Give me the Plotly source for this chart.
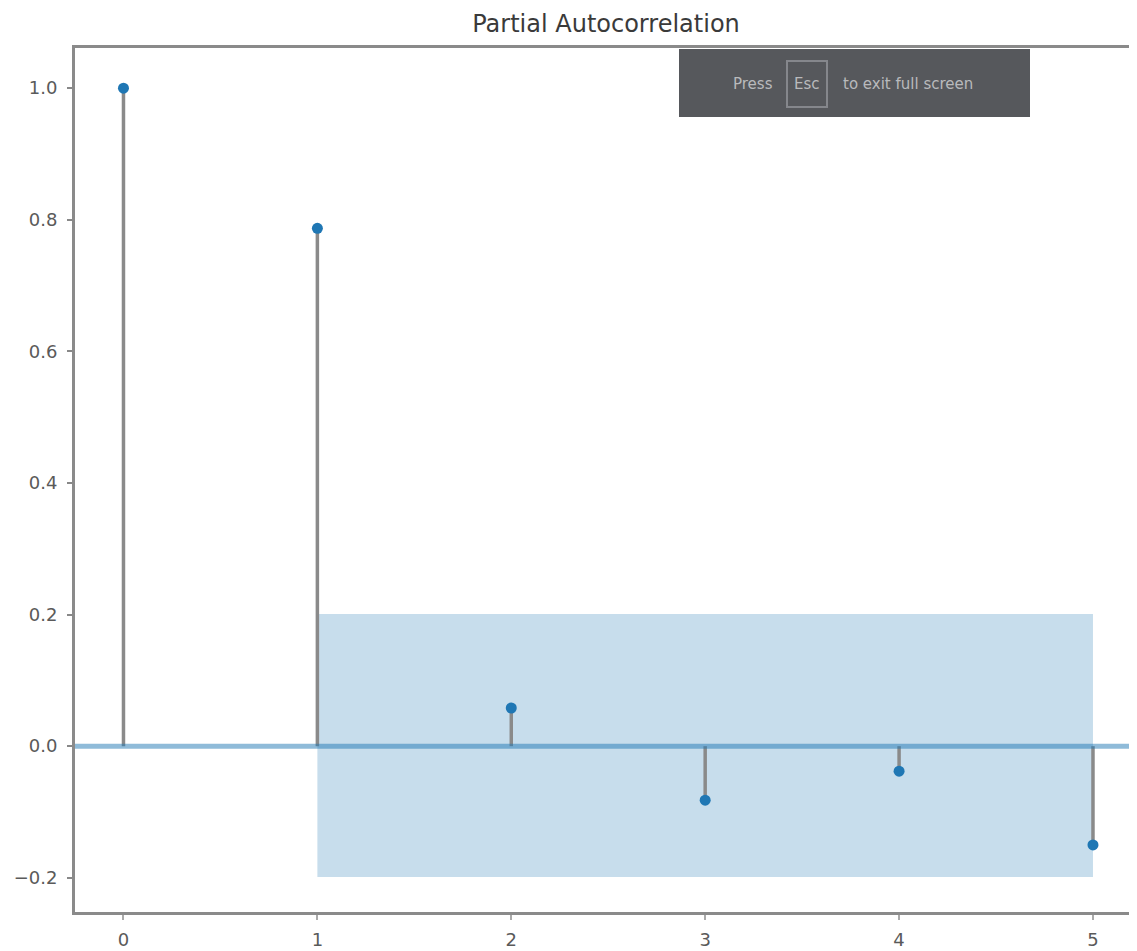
import plotly.graph_objects as go

# Data
lags = [0, 1, 2, 3, 4, 5]
pacf_values = [1.0, 0.787, 0.058, -0.082, -0.038, -0.150]
conf_upper = [0.201, 0.201, 0.201, 0.201, 0.201]   # for lags 1..5
conf_lower = [-0.199, -0.199, -0.199, -0.199, -0.199]
title_text = "Partial Autocorrelation"
x_ticks = [0, 1, 2, 3, 4, 5]
y_ticks = [-0.2, 0.0, 0.2, 0.4, 0.6, 0.8, 1.0]

OFF = 8  # browser body margin
W, H = 1137 - OFF, 951 - OFF
L, R, T, B = 75 - OFF, 0, 48 - OFF, H - (912 - OFF)


def px(xp):
    return (xp - OFF - L) / (W - L - R)


def py(yp):
    return 1 - (yp - OFF - T) / (H - T - B)


fig = go.Figure()

# confidence band
band_x = lags[1:] + lags[1:][::-1]
band_y = conf_upper + conf_lower[::-1]
fig.add_trace(go.Scatter(x=band_x, y=band_y, fill="toself", mode="none",
                         fillcolor="rgba(31,119,180,0.25)", hoverinfo="skip",
                         showlegend=False))

# stems
sx, sy = [], []
for lag, v in zip(lags, pacf_values):
    sx += [lag, lag, None]
    sy += [0, v, None]
fig.add_trace(go.Scatter(x=sx, y=sy, mode="lines",
                         line=dict(color="#8a8a8a", width=3.5),
                         hoverinfo="skip", showlegend=False))

# markers
fig.add_trace(go.Scatter(x=lags, y=pacf_values, mode="markers",
                         marker=dict(color="#1f77b4", size=11, symbol="circle"),
                         showlegend=False))

# zero line
fig.add_shape(type="line", xref="x domain", yref="y", x0=0, x1=1, y0=0, y1=0,
              line=dict(color="rgba(31,119,180,0.5)", width=5), layer="above")

# "Press Esc to exit full screen" overlay
fig.add_shape(type="rect", xref="paper", yref="paper",
              x0=px(679), x1=px(1030), y0=py(117), y1=py(49),
              fillcolor="#56585c", line=dict(width=0), layer="above")
fig.add_shape(type="rect", xref="paper", yref="paper",
              x0=px(787), x1=px(827), y0=py(107), y1=py(61),
              fillcolor="rgba(0,0,0,0)", line=dict(color="#85878c", width=2), layer="above")
ov_font = dict(family="DejaVu Sans", size=15, color="#b9babc")
for txt, cx in [("Press", 753), ("Esc", 807), ("to exit full screen", 908)]:
    fig.add_annotation(xref="paper", yref="paper", x=px(cx), y=py(84),
                       xanchor="center", yanchor="middle", text=txt,
                       showarrow=False, font=ov_font)

fig.update_layout(
    width=W, height=H,
    margin=dict(l=L, r=R, t=T, b=B, autoexpand=False),
    plot_bgcolor="white", paper_bgcolor="white",
    title=dict(text=title_text, x=(606 - OFF) / W, xanchor="center",
               y=1 - (24 - OFF) / H, yanchor="middle",
               font=dict(family="DejaVu Sans", size=24, color="#3a3a3a")),
    font=dict(family="DejaVu Sans", size=18, color="#5a5a5a"),
    xaxis=dict(range=[-0.25, 5.227], tickvals=x_ticks, showgrid=False, zeroline=False,
               showline=True, linecolor="#8a8a8a", linewidth=3, mirror=True,
               ticks="outside", ticklen=5, tickwidth=2, tickcolor="#aaaaaa",
               ticklabelstandoff=4),
    yaxis=dict(range=[-0.252, 1.061], tickvals=y_ticks, tickformat=".1f", showgrid=False,
               zeroline=False, showline=True, linecolor="#8a8a8a", linewidth=3,
               ticks="outside", ticklen=5, tickwidth=2, tickcolor="#888888",
               ticklabelstandoff=6),
)

fig.write_html("out.html")
